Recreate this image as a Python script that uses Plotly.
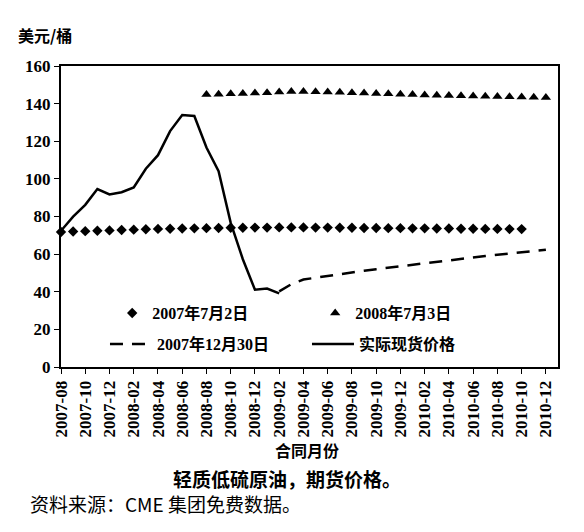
import plotly.graph_objects as go

# contract months on the x axis (2007-08 .. 2011-01)
months = ["2007-08", "2007-09", "2007-10", "2007-11", "2007-12",
          "2008-01", "2008-02", "2008-03", "2008-04", "2008-05", "2008-06",
          "2008-07", "2008-08", "2008-09", "2008-10", "2008-11", "2008-12",
          "2009-01", "2009-02", "2009-03", "2009-04", "2009-05", "2009-06",
          "2009-07", "2009-08", "2009-09", "2009-10", "2009-11", "2009-12",
          "2010-01", "2010-02", "2010-03", "2010-04", "2010-05", "2010-06",
          "2010-07", "2010-08", "2010-09", "2010-10", "2010-11", "2010-12",
          "2011-01"]
tick_months = months[0:41:2]

# futures curve of 2007-07-02 (2007-08 .. 2010-10)
curve_0702 = [71.8, 72.0, 72.2, 72.4, 72.6, 72.8, 73.0, 73.2, 73.4, 73.5,
              73.6, 73.7, 73.8, 73.9, 74.0, 74.0, 74.1, 74.1, 74.2, 74.2,
              74.2, 74.1, 74.1, 74.0, 74.0, 73.9, 73.9, 73.8, 73.8, 73.7,
              73.7, 73.6, 73.6, 73.5, 73.5, 73.4, 73.4, 73.3, 73.3]
months_0702 = months[0:39]

# futures curve of 2008-07-03 (2008-08 .. 2010-12)
curve_0703 = [144.8, 145.0, 145.2, 145.4, 145.6, 145.8, 146.2, 146.4, 146.4,
              146.3, 146.2, 146.0, 145.8, 145.6, 145.4, 145.2, 145.0, 144.8,
              144.6, 144.5, 144.3, 144.2, 144.0, 143.9, 143.8, 143.6, 143.5,
              143.4, 143.2]
months_0703 = months[12:41]

# futures curve of 2007-12-30 as drawn (2009-02 .. 2010-12)
curve_1230 = [40.2, 44.0, 46.5, 47.5, 48.5, 49.5, 50.3, 51.2, 52.0, 52.8,
              53.6, 54.5, 55.3, 56.0, 56.8, 57.5, 58.2, 59.0, 59.7, 60.4,
              61.0, 61.7, 62.3]
months_1230 = months[18:41]

# actual spot price (2007-08 .. 2009-02)
spot = [72.4, 79.9, 86.2, 94.6, 91.7, 92.9, 95.4, 105.4, 112.6, 125.4,
        133.9, 133.4, 116.7, 104.1, 76.6, 57.3, 41.1, 41.7, 39.1]
months_spot = months[0:19]

serif = "Liberation Serif"
latin = "Liberation Serif, Noto Sans CJK SC"
cjk = "Noto Sans CJK SC"

fig = go.Figure()
fig.add_trace(go.Scatter(x=months_0702, y=curve_0702, mode="markers",
                         name="2007年7月2日", legend="legend",
                         marker=dict(symbol="diamond", size=8, color="black"),
                         cliponaxis=False))
fig.add_trace(go.Scatter(x=months_0703, y=curve_0703, mode="markers",
                         name="2008年7月3日", legend="legend",
                         marker=dict(symbol="triangle-up", size=9, color="black"),
                         cliponaxis=False))
fig.add_trace(go.Scatter(x=months_1230, y=curve_1230, mode="lines",
                         name="2007年12月30日", legend="legend2",
                         line=dict(color="black", width=2.5, dash="13px,9px")))
fig.add_trace(go.Scatter(x=months_spot, y=spot, mode="lines",
                         name="实际现货价格", legend="legend2",
                         line=dict(color="black", width=2.5)))

legend_font = dict(family=latin, size=16, color="black", weight="bold")
fig.update_layout(
    width=584, height=532,
    margin=dict(l=53, r=34, t=58, b=173),
    paper_bgcolor="white", plot_bgcolor="white",
    font=dict(family=latin, color="black"),
    showlegend=True,
    legend=dict(orientation="h", x=0.103, y=0.179, xanchor="left", yanchor="middle",
                entrywidth=158, font=legend_font, bgcolor="rgba(0,0,0,0)"),
    legend2=dict(orientation="h", x=0.0885, y=0.076, xanchor="left", yanchor="middle",
                 entrywidth=145, itemwidth=42, font=legend_font,
                 bgcolor="rgba(0,0,0,0)"),
)
fig.update_xaxes(type="category", categoryorder="array", categoryarray=months,
                 range=[0, 41], tickmode="array", tickvals=tick_months,
                 ticktext=tick_months, tickangle=-90,
                 tickfont=dict(family=serif, size=17, weight="bold"),
                 showline=True, linecolor="black", linewidth=2, mirror=True,
                 ticks="outside", ticklen=5, tickcolor="black", showgrid=False)
fig.update_yaxes(range=[0, 160], dtick=20, tickformat="d",
                 tickfont=dict(family=serif, size=17, weight="bold"),
                 showline=True, linecolor="black", linewidth=2, mirror=True,
                 ticks="outside", ticklen=5, tickcolor="black", showgrid=False,
                 zeroline=False)

fig.add_annotation(text="美元/桶", xref="paper", yref="paper", x=-0.032, y=1.103,
                   xanchor="center", yanchor="middle", showarrow=False,
                   font=dict(family=cjk, size=16, weight="bold"))
fig.add_annotation(text="合同月份", xref="paper", yref="paper", x=0.495, y=-0.276,
                   xanchor="center", yanchor="middle", showarrow=False,
                   font=dict(family=cjk, size=16, weight="bold"))
fig.add_annotation(text="轻质低硫原油，期货价格。", xref="paper", yref="paper",
                   x=0.455, y=-0.369, xanchor="center", yanchor="middle", showarrow=False,
                   font=dict(family=cjk, size=19, weight="bold"))
fig.add_annotation(text="资料来源：CME 集团免费数据。", xref="paper", yref="paper",
                   x=-0.066, y=-0.452, xanchor="left", yanchor="middle", showarrow=False,
                   font=dict(family=cjk, size=19))

fig.write_html("out.html")
